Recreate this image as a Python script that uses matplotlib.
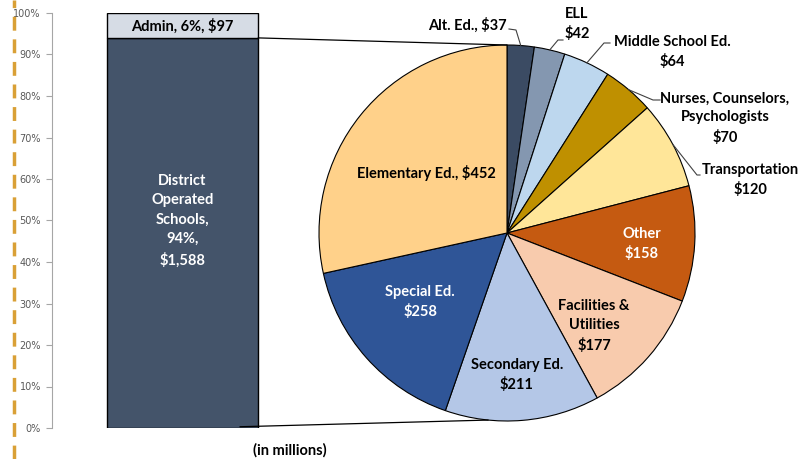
import numpy as np
import matplotlib.pyplot as plt
from matplotlib.patches import ConnectionPatch

# bar (share of total budget)
bar_labels = ['District\nOperated\nSchools,\n94%,\n$1,588', 'Admin, 6%, $97']
bar_pct = [94, 6]
bar_colors = ['#44546A', '#D6DCE5']

# pie (district operated schools, clockwise from top)
pie_names = ['Alt. Ed.', 'ELL', 'Middle School Ed.', 'Nurses, Counselors, Psychologists',
             'Transportation', 'Other', 'Facilities & Utilities', 'Secondary Ed.',
             'Special Ed.', 'Elementary Ed.']
pie_vals = [37, 42, 64, 70, 120, 158, 177, 211, 258, 452]
pie_colors = ['#3B4B63', '#8497B0', '#BDD7EE', '#BF9000', '#FFE699',
              '#C55A11', '#F8CBAD', '#B4C7E7', '#2F5597', '#FFD18A']
pie_texts = ['Alt. Ed., $37', 'ELL\n$42', 'Middle School Ed.\n$64',
             'Nurses, Counselors,\nPsychologists\n$70', 'Transportation\n$120',
             'Other\n$158', 'Facilities &\nUtilities\n$177', 'Secondary Ed.\n$211',
             'Special Ed.\n$258', 'Elementary Ed., $452']

W, H = 806, 459
fig = plt.figure(figsize=(W/100, H/100), dpi=100)
FONT = ['Lato', 'DejaVu Sans']

# dashed orange rule at the far left
fig.add_artist(plt.Line2D([14/W, 14/W], [0, 1], transform=fig.transFigure,
                          color='#D9A036', lw=2.5, dashes=(4, 2.5)))

# ---- bar axes
axb = fig.add_axes([52/W, (H-428)/H, (313-52)/W, (428-13)/H])
bottom = 0
for lab, v, c in zip(bar_labels, bar_pct, bar_colors):
    axb.bar(0, v, width=0.58, bottom=bottom, color=c, edgecolor='black', linewidth=1)
    if v > 50:
        axb.text(0, 50, lab, ha='center', va='center', color='white',
                 fontsize=10.5, fontweight='bold', family=FONT, linespacing=1.5)
    else:
        axb.text(0, bottom + v/2 - 0.3, lab, ha='center', va='center', color='black',
                 fontsize=10.5, fontweight='bold', family=FONT)
    bottom += v
axb.set_xlim(-0.5, 0.5)
axb.set_ylim(0, 100)
axb.set_yticks(range(0, 101, 10))
axb.set_yticklabels([f'{v}%' for v in range(0, 101, 10)], fontsize=7, color='#595959')
axb.set_xticks([])
for s in ['top', 'right', 'bottom']:
    axb.spines[s].set_visible(False)
axb.spines['left'].set_color('#A6A6A6')
axb.tick_params(axis='y', direction='out', length=4, color='#A6A6A6', pad=4)
fig.text(290/W, 1 - 450/H, '(in millions)', ha='center', va='center',
         fontsize=10.5, fontweight='bold', family=FONT)

# ---- pie axes
cx, cy, R = 507, 233, 188
half = 190
axp = fig.add_axes([(cx-half)/W, (H-cy-half)/H, 2*half/W, 2*half/H])
wedges, _ = axp.pie(pie_vals, colors=pie_colors, startangle=90, counterclock=False,
                    wedgeprops=dict(edgecolor='black', linewidth=0.8))
lim = half / R
axp.set_xlim(-lim, lim)
axp.set_ylim(-lim, lim)
axp.set_aspect('equal')
axp.axis('off')


def pd(px, py):
    return ((px - cx) / R, (cy - py) / R)


# inside labels: (index, pixel pos, colour)
inside = [(9, (426, 173), 'black'), (8, (420, 302), 'white'), (7, (517, 375), 'black'),
          (6, (594, 326), 'black'), (5, (642, 244), 'white')]
for i, p, c in inside:
    x, y = pd(*p)
    axp.text(x, y, pie_texts[i], ha='center', va='center', color=c, fontsize=10.5,
             fontweight='bold', family=FONT, linespacing=1.45)

# outside labels with leader lines: (index, elbow px, end px, text px, ha)
outside = [(0, (516, 30), (509, 29), (507, 25), 'right'),
           (1, (558, 40), (563, 40), (577, 24), 'center'),
           (2, (604, 43), (610, 43), (672, 52), 'center'),
           (3, (653, 100), (660, 100), (725, 118), 'center'),
           (4, (697, 175), (700, 175), (750, 180), 'center')]
for i, elb, end, tp, ha in outside:
    w = wedges[i]
    ang = np.deg2rad((w.theta1 + w.theta2) / 2)
    sx, sy = np.cos(ang), np.sin(ang)
    ex, ey = pd(*elb)
    fx_, fy_ = pd(*end)
    axp.plot([sx, ex, fx_], [sy, ey, fy_], color='#404040', lw=0.8, clip_on=False)
    x, y = pd(*tp)
    axp.text(x, y, pie_texts[i], ha=ha, va='center', color='black', fontsize=10.5,
             fontweight='bold', family=FONT, linespacing=1.45, clip_on=False)

# connector lines bar -> pie
con1 = ConnectionPatch(xyA=(0.29, 94), coordsA=axb.transData, xyB=(0, 1),
                       coordsB=axp.transData, color='black', lw=0.9)
con2 = ConnectionPatch(xyA=(0.22, 0.3), coordsA=axb.transData, xyB=(-0.1, -0.995),
                       coordsB=axp.transData, color='black', lw=0.9)
fig.add_artist(con1)
fig.add_artist(con2)

fig.savefig('out.png', dpi=100)
